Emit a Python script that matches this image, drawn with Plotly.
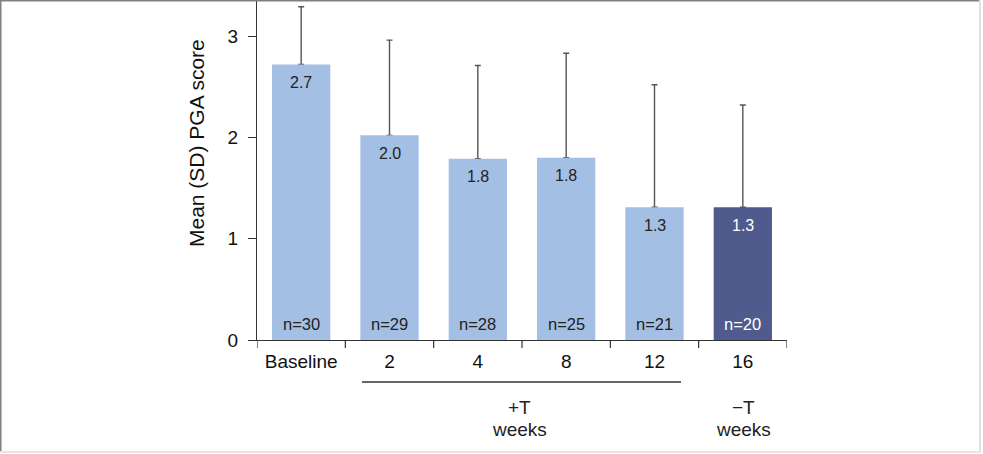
import plotly.graph_objects as go

categories = ["Baseline", "2", "4", "8", "12", "16"]
means = [2.72, 2.02, 1.79, 1.80, 1.31, 1.31]
sds = [0.57, 0.94, 0.92, 1.03, 1.21, 1.01]
mean_labels = ["2.7", "2.0", "1.8", "1.8", "1.3", "1.3"]
n_labels = ["n=30", "n=29", "n=28", "n=25", "n=21", "n=20"]
phase = ["base", "on", "on", "on", "on", "off"]
y_title = "Mean (SD) PGA score"

LIGHT = "#A4BFE4"
DARK = "#4F5A8D"
FONT = "Liberation Sans, Arial, Helvetica, sans-serif"
bar_colors = [DARK if p == "off" else LIGHT for p in phase]
text_colors = ["white" if p == "off" else "#222222" for p in phase]

L, R, T, B = 257, 196, 0, 114
W, H = 983, 454
PW, PH = W - L - R, H - T - B

def px(pix):
    return (pix - L) / PW

def py(pix):
    return (PH - pix) / PH

idx = list(range(len(categories)))

fig = go.Figure()
# error bars (carried by a transparent bar trace, drawn beneath the visible bars)
fig.add_trace(go.Bar(
    x=idx, y=means,
    marker=dict(color="rgba(0,0,0,0)", line=dict(width=0)),
    error_y=dict(type="data", array=sds, arrayminus=[0]*len(sds), symmetric=False,
                 color="#555555", thickness=1.4, width=3),
    hoverinfo="skip",
))
fig.add_trace(go.Bar(
    x=idx, y=means,
    marker=dict(color=bar_colors, line=dict(width=0)),
    hoverinfo="skip",
))

for i in idx:
    fig.add_annotation(x=i, y=means[i], yshift=-18, text=mean_labels[i], showarrow=False,
                       font=dict(size=16, color=text_colors[i], family=FONT),
                       xanchor="center", yanchor="middle")
    fig.add_annotation(x=i, y=0, yshift=16, text=n_labels[i], showarrow=False,
                       font=dict(size=16.5, color=text_colors[i], family=FONT),
                       xanchor="center", yanchor="middle")

# y-axis title
fig.add_annotation(xref="paper", yref="paper", x=px(197), y=py(143), text=y_title, textangle=-90,
                   showarrow=False, xanchor="center", yanchor="middle",
                   font=dict(size=21, color="#111111", family=FONT))

# group underline for +T weeks
fig.add_shape(type="line", xref="paper", yref="paper", x0=px(362), x1=px(681), y0=py(382), y1=py(382),
              line=dict(color="#333333", width=1.4))
for xc, lab in [(px(519), "+T"), (px(743), "\u2212T")]:
    fig.add_annotation(xref="paper", yref="paper", x=xc, y=py(407), text=lab, showarrow=False,
                       font=dict(size=19, color="#222222", family=FONT),
                       xanchor="center", yanchor="middle")
    fig.add_annotation(xref="paper", yref="paper", x=xc, y=py(429), text="weeks", showarrow=False,
                       font=dict(size=19, color="#222222", family=FONT),
                       xanchor="center", yanchor="middle")

# outer frame
frame = [
    (0, 0.75, 981, 0.75, "#808080", 1.5),
    (0.75, 0, 0.75, 452, "#808080", 1.5),
    (980, 0, 980, 452, "#E0E0E0", 2),
    (0, 452, 981, 452, "#E6E6E6", 2),
]
for x0, y0, x1, y1, col, w in frame:
    fig.add_shape(type="line", xref="paper", yref="paper", x0=px(x0), y0=py(y0), x1=px(x1), y1=py(y1),
                  line=dict(color=col, width=w))

fig.update_layout(
    width=W, height=H,
    margin=dict(l=L, r=R, t=T, b=B, autoexpand=False),
    paper_bgcolor="white", plot_bgcolor="white",
    showlegend=False, bargap=0.34, barmode="overlay",
    font=dict(family=FONT, color="#222222"),
    xaxis=dict(tickmode="array", tickvals=idx, ticktext=categories, ticks="",
               showline=True, linecolor="#333333", linewidth=1.2,
               showgrid=False, zeroline=False, tickfont=dict(size=19, color="#111111"),
               range=[-0.5, 5.5], ticklabelstandoff=4),
    yaxis=dict(range=[0, PH/101.3], tickvals=[0, 1, 2, 3], ticks="outside", ticklen=8,
               tickwidth=1.2, tickcolor="#333333", showline=True, linecolor="#333333", linewidth=1.2,
               showgrid=False, zeroline=False, tickfont=dict(size=19, color="#111111"),
               ticklabelstandoff=6, automargin=False),
)

# x ticks at category boundaries
for b in [i - 0.5 for i in range(len(categories) + 1)]:
    fig.add_shape(type="line", xref="x", yref="paper", x0=b, x1=b, y0=0, y1=-8/PH,
                  line=dict(color="#333333", width=1.2))

fig.write_html("out.html", config={"displayModeBar": False},
               post_script="document.body.style.margin='0';document.body.style.overflow='hidden';")
